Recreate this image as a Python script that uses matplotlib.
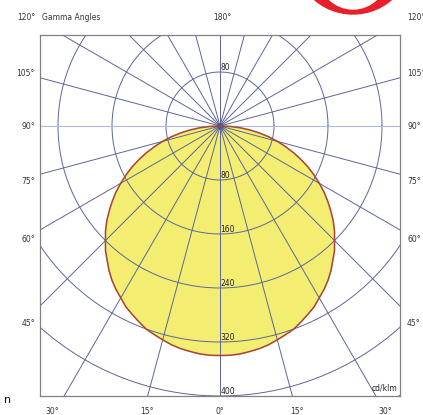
import numpy as np
import matplotlib
matplotlib.use("Agg")
import matplotlib.pyplot as plt
from matplotlib.patches import Ellipse

# light distribution (cd/klm) against gamma angle, same on both sides
gamma = [0, 2.5, 5, 7.5, 10, 12.5, 15, 17.5, 20, 22.5, 25, 27.5, 30, 32.5, 35, 37.5,
         40, 42.5, 45, 47.5, 50, 52.5, 55, 57.5, 60, 62.5, 65, 67.5, 70, 72.5, 75,
         77.5, 80, 82.5, 85, 87.5, 90]
intensity = [340, 340, 339, 337, 335, 332, 328, 324, 320, 314, 308, 302, 294, 287, 279, 270,
             260, 251, 240, 230, 219, 207, 195, 183, 170, 157, 144, 130, 116, 102, 88,
             74, 59, 44, 30, 15, 0]

ring_values = [80, 160, 240, 320, 400, 480, 560]
ring_labels_lower = ["80", "160", "240", "320", "400"]
ring_labels_upper = ["80"]
spoke_step = 15

left_labels = ["120°", "105°", "90°", "75°", "60°", "45°"]
left_label_y = [18, 73, 126, 181, 239, 323]
bottom_labels = ["30°", "15°", "0°", "15°", "30°"]
bottom_label_x = [52, 147, 220, 297, 385]

W, H = 423, 415
fig = plt.figure(figsize=(W / 100, H / 100), dpi=100)

# plot box in pixels
bx0, bx1, by0, by1 = 40, 400, 35, 396
cx, cy = 220, 126
scale = 0.675  # px per cd/klm

ax = fig.add_axes([bx0 / W, 1 - by1 / H, (bx1 - bx0) / W, (by1 - by0) / H])
ax.set_xlim((bx0 - cx) / scale, (bx1 - cx) / scale)
ax.set_ylim(-(by1 - cy) / scale, (cy - by0) / scale)
ax.set_xticks([])
ax.set_yticks([])
for s in ax.spines.values():
    s.set_color("#808080")
    s.set_linewidth(0.9)

grid_col = "#5c6699"

# curve
g = np.radians(np.array(gamma))
I = np.array(intensity)
xs = np.concatenate([-(I * np.sin(g))[::-1], (I * np.sin(g))[1:]])
ys = np.concatenate([-(I * np.cos(g))[::-1], -(I * np.cos(g))[1:]])
ax.fill(xs, ys, color="#f3ed72", zorder=1)
ax.plot(xs, ys, color="#a5443a", lw=1.1, zorder=4)

# rings
t = np.linspace(0, 2 * np.pi, 400)
for r in ring_values:
    ax.plot(r * np.cos(t), r * np.sin(t), color=grid_col, lw=0.7, zorder=2)

# spokes
for a in range(0, 360, spoke_step):
    ar = np.radians(a)
    col = "#a8b8dc" if a in (90, 270) else grid_col
    ax.plot([0, 700 * np.sin(ar)], [0, -700 * np.cos(ar)], color=col, lw=0.7, zorder=2)

ax.plot(0, 0, "o", ms=4, color="#3a5a9a", alpha=0.6, zorder=3)

for lab in ring_labels_lower:
    ax.text(1, -float(lab) + 6, lab, fontsize=5.5, ha="left", va="center", color="#222222", zorder=5)
for lab in ring_labels_upper:
    ax.text(1, float(lab) + 7, lab, fontsize=5.5, ha="left", va="center", color="#222222", zorder=5)
ax.text((bx1 - cx - 3) / scale, -(by1 - cy - 8) / scale, "cd/klm", fontsize=5.5,
        ha="right", va="center", color="#222222", zorder=5)


def fx(px):
    return px / W


def fy(py):
    return 1 - py / H


for lab, py in zip(left_labels, left_label_y):
    fig.text(fx(35), fy(py), lab, fontsize=5.5, ha="right", va="center", color="#333333")
    fig.text(fx(407), fy(py), lab, fontsize=5.5, ha="left", va="center", color="#333333")
for lab, px in zip(bottom_labels, bottom_label_x):
    fig.text(fx(px), fy(411), lab, fontsize=5.5, ha="center", va="center", color="#333333")
fig.text(fx(222), fy(18), "180°", fontsize=5.5, ha="center", va="center", color="#333333")
fig.text(fx(42), fy(18), "Gamma Angles", fontsize=5.5, ha="left", va="center", color="#333333")
fig.text(fx(4), fy(400), "n", fontsize=8, ha="left", va="center", color="#111111")

# red stamp at top edge
fig.patches.append(Ellipse((353, H + 45), 118, 118, transform=None, color="#e8202a"))
fig.patches.append(Ellipse((353, H + 25), 68, 68, transform=None, color="white"))

fig.savefig("out.png", dpi=100)
